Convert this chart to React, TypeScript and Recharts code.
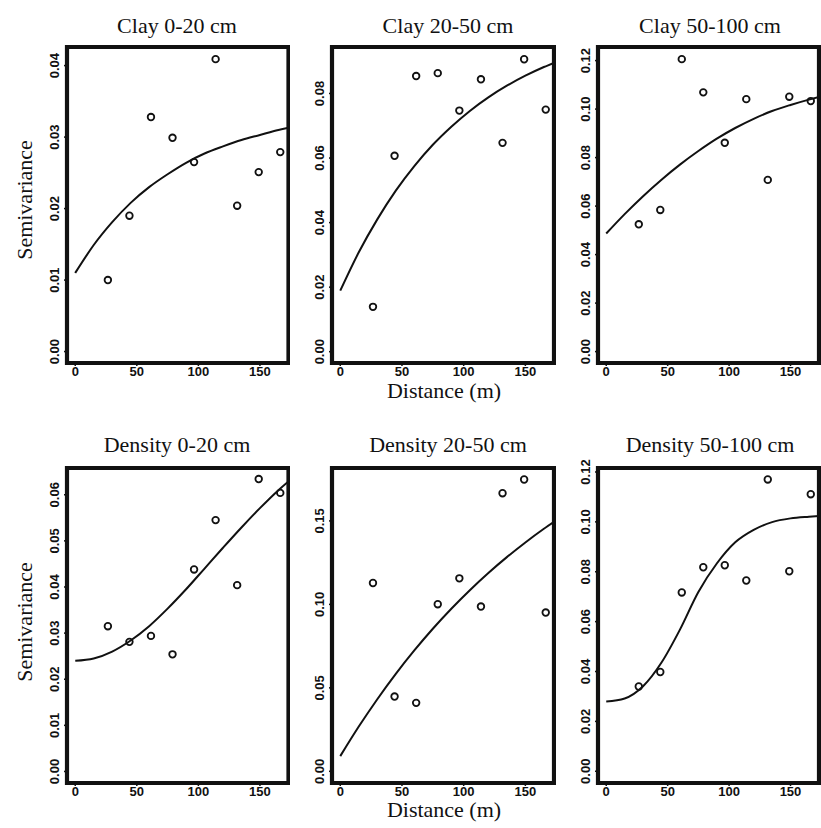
import React from "react";
import { ComposedChart, Line, Scatter, XAxis, YAxis, ReferenceArea } from "recharts";

// lag distances (m) of the experimental semivariogram points
const lagDistance = [26.5, 44, 61.5, 79, 96.5, 114, 131.5, 149, 166.5];
const modelDistance = [0, 15, 30, 45, 60, 75, 90, 105, 120, 135, 150, 165, 173.2];
const distanceTicks = [0, 50, 100, 150];

const clay0to20 = [0.01, 0.019, 0.0328, 0.0299, 0.0265, 0.0409, 0.0204, 0.0251, 0.0279];
const clay0to20Model = [0.011, 0.0149, 0.0181, 0.0208, 0.023, 0.0248, 0.0264, 0.0277, 0.0287, 0.0296, 0.0303, 0.031, 0.0313];

const clay20to50 = [0.0139, 0.0607, 0.0854, 0.0863, 0.0747, 0.0844, 0.0647, 0.0906, 0.075];
const clay20to50Model = [0.0189, 0.0308, 0.041, 0.0499, 0.0575, 0.0641, 0.0697, 0.0746, 0.0788, 0.0824, 0.0855, 0.0882, 0.0895];

const clay50to100 = [0.0525, 0.0584, 0.1206, 0.1069, 0.0861, 0.1041, 0.0708, 0.1051, 0.1033];
const clay50to100Model = [0.0487, 0.0567, 0.0641, 0.0709, 0.0771, 0.0827, 0.0878, 0.0922, 0.096, 0.0992, 0.1017, 0.1039, 0.105];

const density0to20 = [0.0315, 0.0281, 0.0294, 0.0254, 0.0438, 0.0545, 0.0404, 0.0634, 0.0604];
const density0to20Model = [0.024, 0.0245, 0.026, 0.0284, 0.0315, 0.0353, 0.0395, 0.044, 0.0485, 0.0529, 0.0571, 0.061, 0.0629];

const density20to50 = [0.1128, 0.0448, 0.041, 0.1001, 0.1156, 0.0987, 0.1666, 0.1748, 0.0951];
const density20to50Model = [0.0091, 0.0268, 0.0432, 0.0584, 0.0724, 0.0854, 0.0974, 0.1085, 0.1188, 0.1283, 0.1371, 0.1453, 0.1495];

const density50to100 = [0.034, 0.0398, 0.0717, 0.0818, 0.0826, 0.0765, 0.117, 0.0802, 0.1111];
const density50to100Model = [0.028, 0.0292, 0.0341, 0.0436, 0.0568, 0.0719, 0.0833, 0.0918, 0.0968, 0.0999, 0.1014, 0.1021, 0.1024];

const titles = [
  "Clay 0-20 cm",
  "Clay 20-50 cm",
  "Clay 50-100 cm",
  "Density 0-20 cm",
  "Density 20-50 cm",
  "Density 50-100 cm",
];
const yTicks = [
  [0, 0.01, 0.02, 0.03, 0.04],
  [0, 0.02, 0.04, 0.06, 0.08],
  [0, 0.02, 0.04, 0.06, 0.08, 0.1, 0.12],
  [0, 0.01, 0.02, 0.03, 0.04, 0.05, 0.06],
  [0, 0.05, 0.1, 0.15],
  [0, 0.02, 0.04, 0.06, 0.08, 0.1, 0.12],
];
const yDomains: [number, number][] = [
  [-0.0016, 0.0426],
  [-0.0035, 0.0944],
  [-0.0047, 0.1256],
  [-0.0025, 0.0658],
  [-0.007, 0.1817],
  [-0.0047, 0.1216],
];
const xDomain: [number, number] = [-6.7, 173.2];

const observed = [clay0to20, clay20to50, clay50to100, density0to20, density20to50, density50to100];
const models = [
  clay0to20Model,
  clay20to50Model,
  clay50to100Model,
  density0to20Model,
  density20to50Model,
  density50to100Model,
];

// layout of the plot boxes
const cols = [
  { left: 66.5, width: 221.5, titleX: 177 },
  { left: 332, width: 222, titleX: 448 },
  { left: 598, width: 221, titleX: 710 },
];
const rows = [
  { top: 47, height: 316, titleY: 33, labelY: 398, semiY: 200 },
  { top: 468, height: 315, titleY: 452, labelY: 817, semiY: 622 },
];

const YW = 40;
const XH = 30;
const MT = 16;
const MR = 2;
const INK = "#111";
const SANS = "'Liberation Sans', Arial, sans-serif";
const SERIF = "'Liberation Serif', 'Times New Roman', serif";

function YTick(props: any) {
  const { x, y, payload } = props;
  return (
    <text
      x={x}
      y={y}
      transform={`rotate(-90 ${x} ${y})`}
      textAnchor="middle"
      fontFamily={SANS}
      fontWeight={700}
      fontSize={13}
      fill={INK}
    >
      {Number(payload.value).toFixed(2)}
    </text>
  );
}

function OpenCircle(props: any) {
  const { cx, cy } = props;
  if (cx == null || cy == null) return null;
  return <circle cx={cx} cy={cy} r={3.3} fill="none" stroke={INK} strokeWidth={1.8} />;
}

function Panel({ index }: { index: number }) {
  const col = cols[index % 3];
  const row = rows[Math.floor(index / 3)];
  const points = lagDistance.map((x, i) => ({ x, y: observed[index][i] }));
  const curve = modelDistance.map((x, i) => ({ x, y: models[index][i] }));
  const [y0, y1] = yDomains[index];

  return (
    <div style={{ position: "absolute", left: col.left - YW, top: row.top - MT }}>
      <ComposedChart
        width={YW + col.width + MR}
        height={MT + row.height + XH}
        margin={{ top: MT, right: MR, bottom: 0, left: 0 }}
      >
        <XAxis
          type="number"
          dataKey="x"
          domain={xDomain}
          allowDataOverflow
          ticks={distanceTicks}
          interval={0}
          height={XH}
          axisLine={false}
          tickLine={{ stroke: INK, strokeWidth: 1.5 }}
          tickSize={3}
          tickMargin={1}
          tick={{ fontFamily: SANS, fontWeight: 700, fontSize: 13, fill: INK }}
        />
        <YAxis
          type="number"
          dataKey="y"
          domain={[y0, y1]}
          allowDataOverflow
          ticks={yTicks[index]}
          interval={0}
          width={YW}
          axisLine={false}
          tickLine={{ stroke: INK, strokeWidth: 1.5 }}
          tickSize={3}
          tickMargin={5}
          tick={<YTick />}
        />
        <Line
          data={curve}
          dataKey="y"
          type="monotone"
          stroke={INK}
          strokeWidth={2}
          dot={false}
          activeDot={false}
          isAnimationActive={false}
        />
        <Scatter data={points} shape={<OpenCircle />} isAnimationActive={false} />
        {/* plot frame like R's box() */}
        <ReferenceArea
          x1={xDomain[0]}
          x2={xDomain[1]}
          y1={y0}
          y2={y1}
          fill="none"
          fillOpacity={0}
          stroke={INK}
          strokeWidth={4.2}
          ifOverflow="visible"
        />
      </ComposedChart>
    </div>
  );
}

export default function App() {
  return (
    <div
      style={{
        position: "absolute",
        left: 0,
        top: 0,
        width: 821,
        height: 828,
        background: "#fff",
        overflow: "hidden",
      }}
    >
      {titles.map((_, i) => (
        <Panel key={i} index={i} />
      ))}
      <svg
        width={821}
        height={828}
        style={{ position: "absolute", left: 0, top: 0, pointerEvents: "none" }}
      >
        {titles.map((t, i) => (
          <text
            key={t}
            x={cols[i % 3].titleX}
            y={rows[Math.floor(i / 3)].titleY}
            textAnchor="middle"
            fontFamily={SERIF}
            fontSize={22}
            fill={INK}
          >
            {t}
          </text>
        ))}
        {rows.map((r, i) => (
          <g key={i}>
            <text
              x={444}
              y={r.labelY}
              textAnchor="middle"
              fontFamily={SERIF}
              fontSize={22}
              fill={INK}
            >
              Distance (m)
            </text>
            <text
              x={32}
              y={r.semiY}
              transform={`rotate(-90 32 ${r.semiY})`}
              textAnchor="middle"
              fontFamily={SERIF}
              fontSize={22}
              fill={INK}
            >
              Semivariance
            </text>
          </g>
        ))}
      </svg>
    </div>
  );
}
